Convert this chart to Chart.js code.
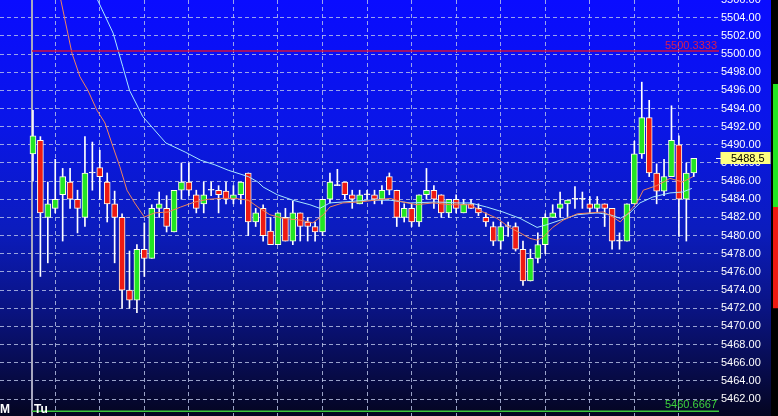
<!DOCTYPE html>
<html><head><meta charset="utf-8">
<script src="https://cdn.jsdelivr.net/npm/chart.js@4/dist/chart.umd.min.js"></script>
<style>html,body{margin:0;padding:0;background:#000;overflow:hidden}#wrap{width:778px;height:416px;position:relative}</style>
</head><body><div id="wrap"><canvas id="c" width="778" height="416"></canvas></div>
<script>
// ---- data ----
const opens=[5489.0,5490.5,5482.0,5483.0,5484.5,5485.9,5484.0,5482.0,5486.9,5487.5,
5485.9,5483.5,5482.0,5474.0,5472.9,5478.5,5477.5,5483.0,5483.0,5480.4,
5485.0,5485.9,5484.5,5483.5,5485.0,5485.0,5484.9,5484.0,5484.5,5486.9,
5481.5,5483.0,5480.5,5479.0,5482.0,5479.4,5482.5,5481.5,5481.0,5480.4,
5484.0,5485.5,5485.9,5484.5,5483.5,5484.5,5484.5,5484.0,5486.5,5485.0,
5482.0,5483.0,5481.5,5484.5,5485.0,5484.5,5482.5,5484.0,5482.5,5483.5,
5483.0,5482.0,5481.0,5479.4,5481.0,5481.0,5478.5,5475.0,5477.5,5479.0,
5482.0,5483.0,5483.5,5484.0,5484.0,5483.5,5483.0,5483.5,5483.0,5479.4,
5479.4,5483.5,5489.0,5493.0,5486.9,5484.9,5486.5,5490.0,5484.0,5486.9];
const closes=[5491.0,5482.5,5483.5,5484.0,5486.5,5484.0,5483.0,5486.9,5486.9,5486.5,
5483.5,5482.0,5474.0,5472.9,5478.5,5477.5,5483.0,5483.5,5481.0,5485.0,
5485.9,5485.0,5483.0,5484.5,5485.0,5484.5,5484.0,5484.5,5485.9,5481.5,
5482.5,5480.0,5479.0,5482.5,5479.4,5482.5,5481.0,5481.0,5480.4,5484.0,
5485.9,5485.5,5484.5,5484.0,5484.5,5484.5,5484.0,5485.0,5485.0,5482.0,
5483.0,5481.5,5484.5,5485.0,5484.0,5482.5,5484.0,5483.0,5483.5,5483.0,
5482.5,5481.5,5479.4,5481.0,5481.0,5478.5,5475.0,5477.5,5479.0,5482.0,
5482.5,5483.5,5483.9,5484.0,5484.0,5483.0,5483.5,5483.0,5479.4,5479.4,
5483.5,5489.0,5493.0,5486.9,5484.9,5486.5,5490.5,5484.0,5486.9,5488.5];
const highs=[5493.8,5490.9,5485.9,5488.4,5487.4,5487.4,5485.0,5490.9,5490.3,5489.4,
5486.9,5484.9,5482.4,5478.3,5479.0,5481.4,5483.4,5484.8,5484.4,5485.0,
5488.0,5488.0,5485.0,5485.9,5485.9,5485.5,5485.9,5485.5,5485.9,5486.9,
5483.0,5483.4,5482.0,5482.5,5483.0,5483.8,5482.5,5482.0,5481.5,5484.0,
5486.9,5487.3,5485.9,5485.0,5485.0,5485.0,5485.0,5485.5,5486.9,5485.0,
5483.5,5483.5,5484.5,5487.4,5485.5,5484.5,5484.0,5484.5,5484.0,5484.0,
5483.5,5482.5,5481.5,5481.5,5481.5,5481.4,5479.4,5478.5,5480.3,5482.4,
5483.4,5484.8,5483.9,5485.4,5484.8,5484.3,5484.3,5483.5,5483.0,5480.3,
5483.5,5490.4,5496.9,5494.9,5487.9,5488.4,5494.3,5491.0,5488.0,5488.5];
const lows=[5486.0,5475.5,5477.0,5482.5,5479.4,5483.0,5480.3,5481.0,5485.0,5484.0,
5481.5,5477.0,5472.0,5472.0,5471.5,5475.5,5477.5,5482.0,5480.4,5480.4,
5484.0,5484.4,5482.5,5482.5,5484.4,5482.5,5483.5,5483.5,5483.5,5480.0,
5481.0,5479.4,5479.0,5479.0,5479.4,5479.0,5479.4,5479.4,5479.4,5480.0,
5483.6,5485.5,5484.0,5483.0,5483.5,5484.0,5483.5,5483.5,5484.5,5481.0,
5481.5,5481.0,5481.0,5484.0,5483.0,5482.0,5482.0,5482.5,5482.5,5483.0,
5482.2,5481.0,5478.9,5478.5,5479.9,5478.3,5474.5,5475.0,5477.0,5478.0,
5482.0,5482.0,5482.1,5483.0,5483.0,5482.5,5482.5,5481.0,5478.5,5478.5,
5479.4,5483.5,5488.5,5486.5,5483.5,5484.4,5486.5,5479.9,5479.4,5486.5];

// fast average (orange) read at bar positions
const maFastX=[3.2,5.25,6.33,7.4,8.62,9.7,10.77,11.7,12.66,13.7,15.0,16.4,18.2,19.9,21.8,23.6,25.3,27.2,29.0,30.3,31.9,33.7,36.0,37.7,39.1,40.0,41.75,44.0,48.1,49.8,51.7,53.9,56.2,58.9,60.6,62.5,64.2,65.6,66.9,67.9,68.7,70.0,71.4,73.3,75.0,76.8,78.1,79.1,80.2,81.4,82.2,84.0,85.8,87.5,88.9];
const maFastY=[5508.1,5500.1,5497.5,5496.0,5493.8,5492.4,5489.8,5487.6,5485.0,5483.6,5482.05,5482.5,5482.6,5483.15,5483.7,5484.0,5484.1,5484.1,5483.9,5483.15,5482.3,5481.9,5481.7,5481.4,5482.3,5483.15,5483.6,5483.7,5484.1,5483.7,5483.4,5483.6,5483.4,5483.4,5482.6,5481.9,5480.9,5480.3,5479.7,5479.5,5479.8,5480.9,5481.7,5482.4,5482.5,5482.6,5482.05,5481.5,5482.5,5483.7,5485.0,5485.5,5486.3,5485.9,5486.5];
// slow average (cyan)
const maSlowX=[8.1,10.8,12.1,13.0,14.8,17.9,20.5,22.6,24.5,26.3,29.0,30.3,31.0,32.9,35.0,37.3,38.65,40.0,41.75,45.0,48.1,50.8,54.4,57.1,58.9,61.1,63.3,65.6,67.9,69.2,71.0,73.3,76.0,77.7,79.1,80.4,81.75,83.5,85.8,87.5,88.75];
const maSlowY=[5507.0,5502.3,5498.6,5496.0,5493.1,5490.2,5489.2,5488.3,5487.8,5487.2,5486.5,5485.9,5485.35,5484.5,5483.9,5483.4,5483.0,5483.6,5483.7,5483.9,5483.9,5483.6,5483.7,5483.6,5483.6,5483.15,5482.6,5481.9,5480.9,5481.2,5481.7,5482.3,5482.5,5482.3,5481.9,5482.5,5483.6,5484.25,5484.7,5484.8,5485.2];

const yTicks=[5462,5464,5466,5468,5470,5472,5474,5476,5478,5480,5482,5484,5486,5488,5490,5492,5494,5496,5498,5500,5502,5504,5506];
const lastPrice=5488.5;
const refUpper=5500.3333, refLower=5460.6667;
const sessionStart=-0.13;            // day separator (bar units)
const dayLabels=['M','Tu'];
const dayAt=[-4.44,-0.13];
const sideUp=[5483.15,5496.7];
const sideDown=[5472.0,5483.15];
const xMin=-4.44, xMax=92.4, yMin=5460.13, yMax=5505.95;
const gridEvery=6;

// ---- styles ----
const UP='#22e622', DOWN='#ee1a12', EDGE='#fffff0';
const idx=opens.map((_,i)=>i);
const fmt=v=>v.toFixed(2);

const bgPlugin={
  id:'bg',
  beforeDraw(chart){
    const {ctx,width,height}=chart;
    ctx.save();
    const g=ctx.createLinearGradient(0,0,0,height);
    g.addColorStop(0,'#0a0cff');
    g.addColorStop(0.3,'#0a16e8');
    g.addColorStop(0.55,'#0b1cbe');
    g.addColorStop(0.75,'#0a1380');
    g.addColorStop(0.9,'#070b48');
    g.addColorStop(1,'#040520');
    ctx.fillStyle=g; ctx.fillRect(0,0,771,height);
    ctx.fillStyle='#000'; ctx.fillRect(771,0,width-771,height);
    const y=chart.scales.y;
    ctx.fillStyle='#22e622';
    ctx.fillRect(773,y.getPixelForValue(sideUp[1]),5,y.getPixelForValue(sideUp[0])-y.getPixelForValue(sideUp[1]));
    ctx.fillStyle='#ee1a12';
    ctx.fillRect(773,y.getPixelForValue(sideDown[1]),5,y.getPixelForValue(sideDown[0])-y.getPixelForValue(sideDown[1]));
    ctx.restore();
  },
  afterDraw(chart){
    const {ctx,chartArea}=chart; const y=chart.scales.y, x=chart.scales.x;
    ctx.save();
    ctx.font='11px "Liberation Sans", Arial, sans-serif';
    ctx.textAlign='right'; ctx.textBaseline='alphabetic';
    ctx.fillStyle='#d81e50';
    ctx.fillText(refUpper.toFixed(4), chartArea.right-2, y.getPixelForValue(refUpper)-2);
    ctx.fillStyle='#3cd23c';
    ctx.fillText(refLower.toFixed(4), chartArea.right-2, y.getPixelForValue(refLower)-3);
    // day labels
    ctx.font='bold 12px "Liberation Sans", Arial, sans-serif';
    ctx.fillStyle='#ffffff'; ctx.textAlign='left';
    dayLabels.forEach((t,i)=>{
      const px=x.getPixelForValue(dayAt[i]);
      ctx.fillText(t, i===0?px:px+2, 413);
    });
    // last price tag
    const py=y.getPixelForValue(lastPrice);
    ctx.fillStyle='#ffff80';
    ctx.fillRect(chartArea.right+1.5, Math.round(py)-6, 50, 12);
    ctx.strokeStyle='#ffffff'; ctx.lineWidth=1;
    ctx.beginPath(); ctx.moveTo(chartArea.right-3,Math.round(py)+0.5); ctx.lineTo(chartArea.right+2,Math.round(py)+0.5); ctx.stroke();
    ctx.fillStyle='#000'; ctx.font='11px "Liberation Sans", Arial, sans-serif'; ctx.textBaseline='middle';
    ctx.fillText(String(lastPrice), chartArea.right+12, Math.round(py)+0.5);
    ctx.restore();
  }
};

const colorFor=i=>closes[i]>opens[i]?UP:(closes[i]<opens[i]?DOWN:EDGE);

new Chart(document.getElementById('c'),{
  type:'bar',
  data:{datasets:[
    {type:'line',label:'fast',data:maFastX.map((v,i)=>({x:v,y:maFastY[i]})),borderColor:'#f0845a',borderWidth:1,pointRadius:0,tension:0,order:1},
    {type:'line',label:'slow',data:maSlowX.map((v,i)=>({x:v,y:maSlowY[i]})),borderColor:'#a8e8ff',borderWidth:1,pointRadius:0,tension:0,order:1},
    {type:'line',label:'upper',data:[{x:sessionStart,y:refUpper},{x:xMax,y:refUpper}],borderColor:'#d0103c',borderWidth:1.5,pointRadius:0,order:0},
    {type:'line',label:'lower',data:[{x:sessionStart,y:refLower},{x:xMax,y:refLower}],borderColor:'#3cc83c',borderWidth:1.5,pointRadius:0,order:0},
    {type:'line',label:'session',data:[{x:sessionStart,y:yMin},{x:sessionStart,y:yMax}],borderColor:'#a8a8c0',borderWidth:2,pointRadius:0,order:5},
    {label:'wick',data:idx.map(i=>({x:i,y:[lows[i],highs[i]]})),backgroundColor:'#ffffff',borderWidth:0,barThickness:1,grouped:false,order:4},
    {label:'body',data:idx.map(i=>({x:i,y:[opens[i],closes[i]]})),backgroundColor:c=>colorFor(c.dataIndex),borderColor:EDGE,borderWidth:1,borderSkipped:false,barThickness:6,minBarLength:1,grouped:false,order:3}
  ]},
  plugins:[bgPlugin],
  options:{
    responsive:false,animation:false,
    layout:{padding:0},
    plugins:{legend:{display:false},tooltip:{enabled:false}},
    scales:{
      x:{type:'linear',min:xMin,max:xMax,offset:false,
        afterBuildTicks:s=>{const t=[];for(let v=gridEvery;v<=xMax;v+=gridEvery)t.push({value:v});s.ticks=t;},
        ticks:{display:false},
        grid:{color:'rgba(190,200,235,0.8)',lineWidth:1,drawTicks:false},
        border:{display:false,dash:[4,3]},
        afterFit:s=>{s.height=0;s.paddingLeft=0;s.paddingRight=0;s.paddingTop=0;s.paddingBottom=0;}
      },
      y:{type:'linear',position:'right',min:yMin,max:yMax,
        afterBuildTicks:s=>{s.ticks=yTicks.map(v=>({value:v}));},
        ticks:{color:'#ffffff',padding:2,font:{family:'"Liberation Sans", Arial, sans-serif',size:11},callback:v=>fmt(v)},
        grid:{color:'rgba(190,200,235,0.8)',lineWidth:1,drawTicks:false},
        border:{display:false,dash:[4,3]},
        afterFit:s=>{s.width=59;s.paddingTop=0;s.paddingBottom=0;s.paddingLeft=0;s.paddingRight=0;}
      }
    }
  }
});
</script></body></html>
